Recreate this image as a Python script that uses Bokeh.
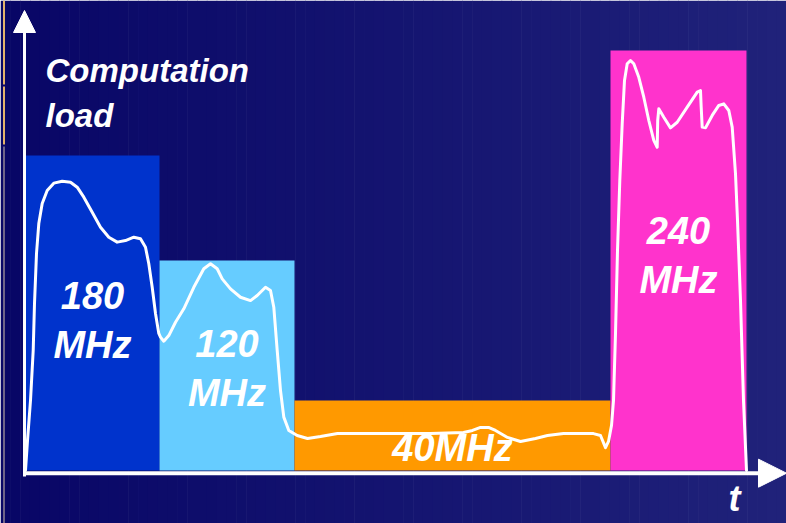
from bokeh.plotting import figure
from bokeh.models import Range1d, Arrow, NormalHead, ColumnDataSource
from bokeh.core.properties import value
from bokeh.embed import file_html
from bokeh.resources import INLINE

# ---- data -------------------------------------------------------------
# clock frequency per phase (MHz) and phase boundaries on the time axis
freq_mhz = [180, 120, 40, 240]
freq_labels = ["180\nMHz", "120\nMHz", "40MHz", "240\nMHz"]
phase_edges = [25, 159, 294, 610, 746]
phase_colors = ["#0033cc", "#66ccff", "#ff9900", "#ff33cc"]

# measured computation load over time (MHz-equivalent)
t_curve = [25, 27, 30, 32.7, 34, 36, 38.3, 41.7, 46.7, 53.3, 61.7, 70, 76.7,
           83.3, 91.7, 100, 108.3, 116.7, 125, 133.3, 140, 145, 148.3, 151.7,
           155, 158.3, 160, 163.3, 168.3, 175, 183.3, 193.3, 203.3, 210, 216.7,
           221.7, 230, 240, 250, 256.7, 265, 270, 273.3, 276.7, 280, 283.3,
           288.3, 296.7, 307, 320, 337, 380, 430, 463, 472, 480, 488, 495, 507,
           520, 535, 547, 563, 593, 600, 605, 608, 611, 613, 615, 617, 619.3,
           621.7, 624, 626.7, 630, 633.3, 638.3, 643.3, 648.3, 653.3, 656.7,
           657.2, 658.3, 663.3, 670, 676.7, 686.7, 696.7, 700, 700.7, 701.7,
           705, 711.7, 718.3, 723.3, 728.3, 731.7, 735, 737, 740, 743, 746]
load_curve = [0.0, 17.1, 40.0, 68.6, 95.4, 124.0, 141.1, 152.6, 160.0, 164.2,
              165.3, 164.7, 161.9, 156.2, 147.6, 139.0, 133.3, 130.5, 131.4,
              133.3, 132.4, 127.6, 118.1, 104.7, 89.7, 78.3, 76.2, 73.9, 77.1,
              84.7, 92.4, 104.7, 115.3, 118.1, 115.3, 109.5, 103.8, 99.0, 97.1,
              100.0, 104.7, 102.9, 93.3, 68.6, 45.7, 30.5, 22.9, 20.0, 18.3,
              19.4, 21.1, 21.1, 21.1, 21.7, 22.9, 24.6, 24.6, 22.9, 18.9, 16.6,
              18.3, 20.0, 21.1, 21.1, 20.0, 13.1, 16.6, 25.7, 40.0, 78.3, 125.7,
              165.7, 198.1, 222.9, 232.4, 234.3, 232.4, 224.7, 213.3, 200.0,
              188.6, 184.7, 200.0, 206.7, 201.9, 195.8, 199.0, 207.6, 216.2,
              217.1, 207.6, 196.2, 195.8, 202.9, 208.6, 209.5, 205.7, 196.2,
              169.5, 142.9, 97.1, 40.0, 0.0]

# ---- layout -----------------------------------------------------------
W, H = 786, 523
BASE_PX = 470          # pixel row of 0 MHz
PX_PER_MHZ = 1.75


def y_at(px):
    """data value for a pixel row"""
    return (BASE_PX - px) / PX_PER_MHZ


p = figure(width=W, height=H, x_range=Range1d(0, W),
           y_range=Range1d(y_at(H), y_at(0)),
           toolbar_location=None, output_backend="svg", min_border=0)
p.axis.visible = False
p.grid.visible = False
p.outline_line_color = None

# background: horizontal navy gradient
n = 80
c0, c1 = (8, 6, 102), (32, 34, 122)
left = [W * i / n for i in range(n)]
right = [W * (i + 1) / n + 0.6 for i in range(n)]
cols = []
for i in range(n):
    f = i / (n - 1)
    cols.append("#%02x%02x%02x" % tuple(int(round(a + (b - a) * f)) for a, b in zip(c0, c1)))
p.quad(left=left, right=right, bottom=y_at(H), top=y_at(0), fill_color=cols, line_color=None)

# thin slide-edge rule on the far left
p.segment(x0=[3.5, 3.5, 3.5], y0=[y_at(0), y_at(86), y_at(146)],
          x1=[3.5, 3.5, 3.5], y1=[y_at(84), y_at(144), y_at(H)],
          line_color=["#e2b26a", "#e2b26a", "#6e6488"], line_width=2)

# frequency phases
bars = ColumnDataSource(dict(left=phase_edges[:-1], right=phase_edges[1:],
                             top=freq_mhz, color=phase_colors))
p.quad(left="left", right="right", bottom=0, top="top", fill_color="color",
       line_color=None, source=bars)

# load curve
p.line(t_curve, load_curve, line_color="white", line_width=3,
       line_join="round", line_cap="round")

# axes with arrow heads
p.add_layout(Arrow(end=NormalHead(size=22, fill_color="white", line_color="white"),
                   x_start=24, y_start=y_at(476), x_end=24, y_end=y_at(10),
                   line_color="white", line_width=3))
p.add_layout(Arrow(end=NormalHead(size=28, fill_color="white", line_color="white"),
                   x_start=23, y_start=y_at(472.7), x_end=786, y_end=y_at(472.7),
                   line_color="white", line_width=4))

font = value("Liberation Sans")


def baseline(px, size):
    # shift so the glyph baseline lands on the wanted pixel row
    return y_at(px - 0.4 * size)


# phase labels, centred on each bar
LABEL_PX = 38
first_baseline_px = [310, 358, 463, 245]
lx, ly, lt = [], [], []
for i, lab in enumerate(freq_labels):
    cx = (phase_edges[i] + phase_edges[i + 1]) / 2
    for j, line in enumerate(lab.split("\n")):
        lx.append(cx)
        ly.append(baseline(first_baseline_px[i] + 50 * j, LABEL_PX))
        lt.append(line)
p.text(lx, ly, text=lt, text_font=font, text_font_style="bold italic",
       text_font_size=f"{LABEL_PX}px", text_color="white", text_align="center",
       text_baseline="alphabetic")

# axis titles
p.text([45, 45], [baseline(83, 33), baseline(128, 33)], text=["Computation", "load"],
       text_font=font, text_font_style="bold italic", text_font_size="33px",
       text_color="white", text_align="left", text_baseline="alphabetic")
p.text([734], [baseline(512, 36)], text=["t"], text_font=font,
       text_font_style="bold italic", text_font_size="36px",
       text_color="white", text_align="center", text_baseline="alphabetic")

open("out.html", "w").write(file_html(p, INLINE))
